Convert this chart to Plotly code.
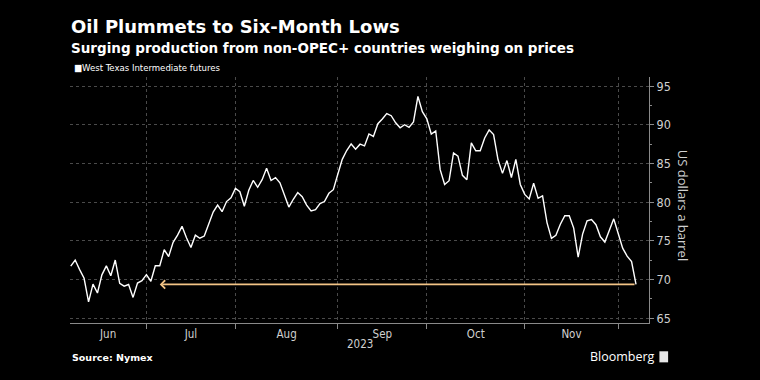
import pandas as pd
import plotly.graph_objects as go

# ---- data -------------------------------------------------------------
holidays = ["2023-06-19", "2023-07-04", "2023-09-04", "2023-11-23"]
dates = [d.strftime("%Y-%m-%d") for d in pd.bdate_range("2023-06-06", "2023-12-06")
         if d.strftime("%Y-%m-%d") not in holidays]

wti_jun = [71.74, 72.53, 71.29, 70.17, 67.12, 69.42, 68.27, 70.62, 71.78, 70.50,
           72.53, 69.51, 69.16, 69.37, 67.70, 69.56, 69.86, 70.64]
wti_jul = [69.79, 71.79, 71.80, 73.86, 72.99, 74.83, 75.75, 76.89, 75.42, 74.15,
           75.75, 75.35, 75.63, 77.07, 78.74, 79.63, 78.78, 80.09, 80.58, 81.80]
wti_aug = [81.37, 79.49, 81.55, 82.82, 81.94, 82.92, 84.40, 82.82, 83.19, 82.51,
           80.99, 79.38, 80.39, 81.25, 80.72, 79.64, 78.89, 79.05, 79.83, 80.10,
           81.16, 81.63, 83.63]
wti_sep = [85.55, 86.69, 87.54, 86.87, 87.51, 87.29, 88.84, 88.52, 90.16, 90.77,
           91.48, 91.20, 90.28, 89.63, 90.03, 89.68, 90.39, 93.68, 91.71, 90.79]
wti_oct = [88.82, 89.23, 84.22, 82.31, 82.79, 86.38, 85.97, 83.49, 82.91, 87.69,
           86.66, 86.66, 88.32, 89.37, 88.75, 85.49, 83.74, 85.39, 83.21, 85.54,
           82.31, 81.02]
wti_nov = [80.44, 82.46, 80.51, 80.82, 77.37, 75.33, 75.74, 77.17, 78.26, 78.26,
           76.66, 72.90, 75.89, 77.60, 77.77, 77.10, 75.54, 74.86, 76.41, 77.86,
           75.96]
wti_dec = [74.07, 73.04, 72.32, 69.38]
wti = wti_jun + wti_jul + wti_aug + wti_sep + wti_oct + wti_nov + wti_dec

month_labels = ["Jun", "Jul", "Aug", "Sep", "Oct", "Nov"]
month_label_pos = ["2023-06-16 09:36", "2023-07-17", "2023-08-15 12:00",
                   "2023-09-15", "2023-10-16", "2023-11-14 12:00"]
month_bounds = ["2023-06-30", "2023-07-31", "2023-08-31", "2023-09-29",
                "2023-10-31", "2023-11-30"]
y_ticks = [65, 70, 75, 80, 85, 90, 95]
arrow_target = "2023-07-06"

# ---- figure -----------------------------------------------------------
BG = "#000000"
GRID = "#4a4a4a"
AXIS = "#8a8a8a"
TXT = "#d0d0d0"
NARROW = "DejaVu Sans Condensed, Liberation Sans Narrow, Roboto Condensed, Roboto, sans-serif"
BOLD = "DejaVu Sans, Verdana, sans-serif"

fig = go.Figure()
fig.add_trace(go.Scatter(x=dates, y=wti, mode="lines",
                         line=dict(color="#ffffff", width=1.4),
                         name="West Texas Intermediate futures",
                         showlegend=False, hoverinfo="x+y"))

fig.update_layout(
    width=760, height=380,
    paper_bgcolor=BG, plot_bgcolor=BG,
    margin=dict(l=70, r=111, t=77, b=57),
    showlegend=False,
    xaxis=dict(
        type="date",
        range=["2023-06-05 20:00", "2023-12-08 22:00"],
        rangebreaks=[dict(bounds=["sat", "mon"]), dict(values=holidays)],
        tickmode="array", tickvals=month_label_pos, ticktext=month_labels,
        ticks="", showgrid=False,
        tickfont=dict(family=NARROW, size=11.5, color=TXT),
        showline=True, linecolor=AXIS, linewidth=1,
        minor=dict(tickmode="array", tickvals=month_bounds, ticks="outside",
                   ticklen=5, tickcolor=AXIS, showgrid=True,
                   gridcolor=GRID, griddash="dot", gridwidth=1),
        zeroline=False, fixedrange=True,
    ),
    yaxis=dict(
        side="right",
        range=[64.39, 96.2],
        tickmode="array", tickvals=y_ticks,
        ticks="outside", ticklen=4, tickcolor=AXIS,
        tickfont=dict(family=NARROW, size=12.5, color=TXT),
        showline=True, linecolor=AXIS, linewidth=1,
        showgrid=True, gridcolor=GRID, griddash="dot", gridwidth=1,
        minor=dict(dtick=2.5, tick0=65, ticks="outside", ticklen=2,
                   tickcolor=AXIS, showgrid=False),
        zeroline=False, fixedrange=True,
    ),
)

anns = [
    dict(text="<b>Oil Plummets to Six-Month Lows</b>", x=-0.002, y=1.205,
         font=dict(family=BOLD, size=18, color="#ffffff")),
    dict(text="<b>Surging production from non-OPEC+ countries weighing on prices</b>",
         x=-0.002, y=1.118, font=dict(family=BOLD, size=13.5, color="#ffffff")),
    dict(text="■West Texas Intermediate futures", x=0.004, y=1.037,
         font=dict(family=NARROW, size=9.5, color="#ffffff")),
    dict(text="<b>Source: Nymex</b>", x=0.0, y=-0.142,
         font=dict(family=BOLD, size=9.5, color="#ffffff")),
]
for a in anns:
    fig.add_annotation(xref="paper", yref="paper", xanchor="left",
                       yanchor="middle", showarrow=False, **a)

fig.add_annotation(xref="paper", yref="paper", x=0.5, y=-0.085,
                   text="2023", showarrow=False, xanchor="center", yanchor="middle",
                   font=dict(family=NARROW, size=11.5, color=TXT))
fig.add_annotation(xref="paper", yref="paper", x=1.059, y=0.48,
                   text="US dollars a barrel", textangle=90, showarrow=False,
                   xanchor="center", yanchor="middle",
                   font=dict(family="Open Sans, DejaVu Sans, sans-serif",
                             size=13, color=TXT))
fig.add_annotation(xref="paper", yref="paper", x=1.013, y=-0.138,
                   text="Bloomberg", showarrow=False, xanchor="right",
                   yanchor="middle",
                   font=dict(family="Open Sans, DejaVu Sans, sans-serif",
                             size=12.5, color="#ffffff"))
# logo mark
fig.add_shape(type="rect", xref="paper", yref="paper",
              x0=1.018, x1=1.033, y0=-0.16, y1=-0.115,
              fillcolor="#e8e8e8", line=dict(width=0))

# arrow from latest price back to when it was last at this level
fig.add_annotation(xref="x", yref="y", axref="x", ayref="y",
                   x=arrow_target, y=wti[-1], ax=dates[-1], ay=wti[-1],
                   showarrow=True, arrowhead=4, arrowsize=1.0, arrowwidth=1.6,
                   arrowcolor="#f3c486", text="", standoff=0, startstandoff=0)

fig.write_html(
    "out.html",
    config={"displayModeBar": False},
    post_script="document.body.style.margin='0';"
                "document.body.style.background='#000';",
)
